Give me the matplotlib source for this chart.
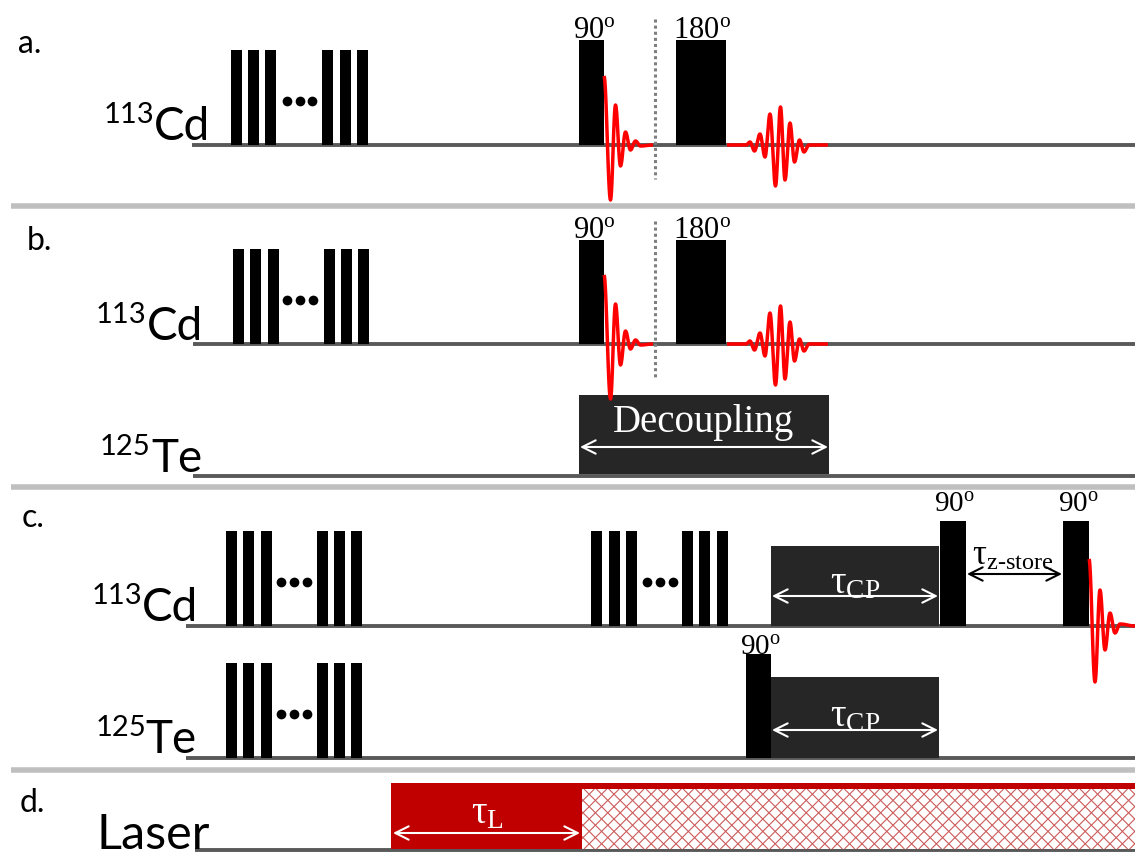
import numpy as np
import matplotlib.pyplot as plt
from matplotlib.patches import Rectangle
from matplotlib.collections import LineCollection

plt.rcParams['mathtext.fontset'] = 'custom'
plt.rcParams['mathtext.rm'] = 'Liberation Serif'
plt.rcParams['mathtext.it'] = 'Liberation Serif:italic'
plt.rcParams['mathtext.bf'] = 'Liberation Serif:bold'

SANS = 'Lato'
SERIF = 'Liberation Serif'

# time axis in px (left edge of each pulse of the saturation trains)
train_a = [231, 248, 265, 322, 340, 357]
train_b = [233, 250, 268, 324, 341, 358]
train_c1 = [226, 243, 261, 317, 334, 351]
train_c2 = [591, 609, 626, 682, 699, 717]
dots_a = [287, 300, 312]
dots_b = [287, 300, 313]
dots_c1 = [281, 294, 307]
dots_c2 = [647, 660, 673]

# FID after 90 pulse (a, b): offsets from pulse edge / baseline
fid_dx = [0, 6.5, 11.5, 16.5, 21.5, 26.5, 31.5, 36.5, 49]
fid_dy = [-69, 55, -40, 21, -13, 5, -4, 1, 0]
# FID after last 90 pulse (c)
fidc_dx = [0, 6, 11, 16, 21, 26, 31, 46]
fidc_dy = [-67, 56, -36, 24, -13, 7, -2, 0]
# echo after 180 pulse (a, b)
echo_x = [727, 746, 750, 754.5, 760, 765, 770, 775.5, 780.5, 785, 790, 794.5, 799.5, 804, 809, 828]
echo_dy = [0, 0, -3, 6, -11, 12, -31, 41, -38, 35, -22, 17, -5, 7, 0, 0]

fig = plt.figure(figsize=(11.35, 8.53), dpi=100)
ax = fig.add_axes([0, 0, 1, 1])
ax.set_xlim(0, 1135)
ax.set_ylim(853, 0)
ax.axis('off')


def channel(y, x0=192):
    ax.plot([x0, 1135], [y, y], color='#595959', lw=2.8, solid_capstyle='butt', zorder=2)


def sep(y):
    ax.plot([11, 1135], [y, y], color='#bfbfbf', lw=4, solid_capstyle='butt', zorder=1)


def block(x0, x1, top, base, color='black', z=3):
    ax.add_patch(Rectangle((x0, top), x1 - x0, base - top, fc=color, ec='none', zorder=z))


def train(xs, dots, base, w=10.5, h=95):
    for x in xs:
        block(x, x + w, base - h, base)
    ax.plot(dots, [base - 44] * len(dots), 'o', color='black', ms=7, mew=0, zorder=3)


def wave(xs, ys, n=16):
    px, py = [xs[0]], [ys[0]]
    t = np.linspace(0, 1, n)[1:]
    for i in range(len(xs) - 1):
        px.extend(xs[i] + (xs[i + 1] - xs[i]) * t)
        py.extend(ys[i] + (ys[i + 1] - ys[i]) * (1 - np.cos(np.pi * t)) / 2)
    ax.plot(px, py, color='#ff0000', lw=2.5, zorder=4, solid_capstyle='butt')


def span(x0, x1, y, color):
    ax.annotate('', xy=(x1, y), xytext=(x0, y),
                arrowprops=dict(arrowstyle='<->', color=color, lw=1.5,
                                shrinkA=0, shrinkB=0, mutation_scale=24), zorder=7)


def nucleus(mass, sym, xr, base, size=33):
    t = ax.text(xr, base, sym, family=SANS, fontsize=size, ha='right', va='baseline')
    ax.annotate(mass, xy=(0, base - 17), xycoords=(t, 'data'), ha='right', va='baseline',
                family=SANS, fontsize=21)


def angle(txt, x, base, size=22):
    ax.text(x, base, r'$\mathrm{%s^o}$' % txt, fontsize=size, ha='center', va='baseline')


def letter(s, x, base):
    ax.text(x, base, s, family=SANS, fontsize=23, ha='left', va='baseline')


# separators
for y in [207, 488, 771]:
    sep(y)

# ---------------- a ----------------
letter('a.', 18, 53)
nucleus('113', 'Cd', 210, 140)
channel(146)
train(train_a, dots_a, 146)
block(579, 604, 41, 146)
block(676, 726, 41, 146)
angle('90', 594, 38)
angle('180', 702, 38)
ax.plot([655, 655], [20, 180], color='#7f7f7f', lw=2.2, ls=(0, (1, 1)), zorder=2)
wave([604 + d for d in fid_dx], [146 + d for d in fid_dy])
wave(echo_x, [146 + d for d in echo_dy])

# ---------------- b ----------------
letter('b.', 27, 250)
nucleus('113', 'Cd', 203, 340)
nucleus('125', 'Te', 202, 472)
channel(345, 193)
channel(477, 193)
train(train_b, dots_b, 345)
block(579, 604, 241, 345)
block(676, 726, 241, 345)
angle('90', 594, 238)
angle('180', 702, 238)
ax.plot([655, 655], [222, 380], color='#7f7f7f', lw=2.2, ls=(0, (1, 1)), zorder=2)
wave([604 + d for d in fid_dx], [345 + d for d in fid_dy])
wave(echo_x, [345 + d for d in echo_dy])
block(579, 829, 396, 475, color='#262626')
ax.text(704, 432, 'Decoupling', family=SERIF, fontsize=28, color='white', ha='center', va='baseline', zorder=6)
span(580, 828, 448, 'white')

# ---------------- c ----------------
letter('c.', 22, 527)
nucleus('113', 'Cd', 198, 621)
nucleus('125', 'Te', 197, 753)
channel(627, 186)
channel(759, 186)
train(train_c1, dots_c1, 627)
train(train_c2, dots_c2, 627)
train(train_c1, dots_c1, 759)
block(771, 939, 547, 627, color='#262626')
block(940, 966, 522, 627)
block(1063, 1089, 522, 627)
block(746, 771, 655, 759)
block(771, 939, 678, 759, color='#262626')
angle('90', 954, 512, 21)
angle('90', 1078, 512, 21)
angle('90', 760, 655, 21)
ax.text(855, 582, r'$\mathrm{\tau_{CP}}$', fontsize=28, color='white', ha='center', va='center', zorder=6)
ax.text(855, 715, r'$\mathrm{\tau_{CP}}$', fontsize=28, color='white', ha='center', va='center', zorder=6)
span(772, 938, 597, 'white')
span(772, 938, 731, 'white')
ax.text(1013, 555, r'$\mathrm{\tau}_{\text{z-store}}$', fontsize=25, color='black', ha='center', va='center', zorder=6)
span(967, 1062, 575, 'black')
wave([1089 + d for d in fidc_dx], [627 + d for d in fidc_dy])

# ---------------- d ----------------
letter('d.', 20, 812)
ax.text(210, 849, 'Laser', family=SANS, fontsize=35, ha='right', va='baseline')
channel(851, 195)
block(391, 582, 784, 850, color='#c00000', z=5)
block(582, 1135, 784, 790, color='#c00000', z=5)
ax.text(487, 812, r'$\mathrm{\tau_L}$', fontsize=28, color='white', ha='center', va='center', zorder=6)
span(393, 580, 834, 'white')

# cross-hatched part of the laser block (the red block hides the left overhang)
hx0, hx1, hy0, hy1 = 582, 1135, 790, 850
hh = hy1 - hy0
block(hx0, hx1, hy0, hy1, color='white', z=3)
cs = np.arange(hx0 - hh, hx1 + hh, 12.4)
segs = [[(c, hy0), (c + hh, hy1)] for c in cs] + [[(c, hy1), (c + hh, hy0)] for c in cs]
ax.add_collection(LineCollection(segs, colors='#cc5a5a', linewidths=0.8, zorder=4))

fig.savefig('out.png', dpi=100)
